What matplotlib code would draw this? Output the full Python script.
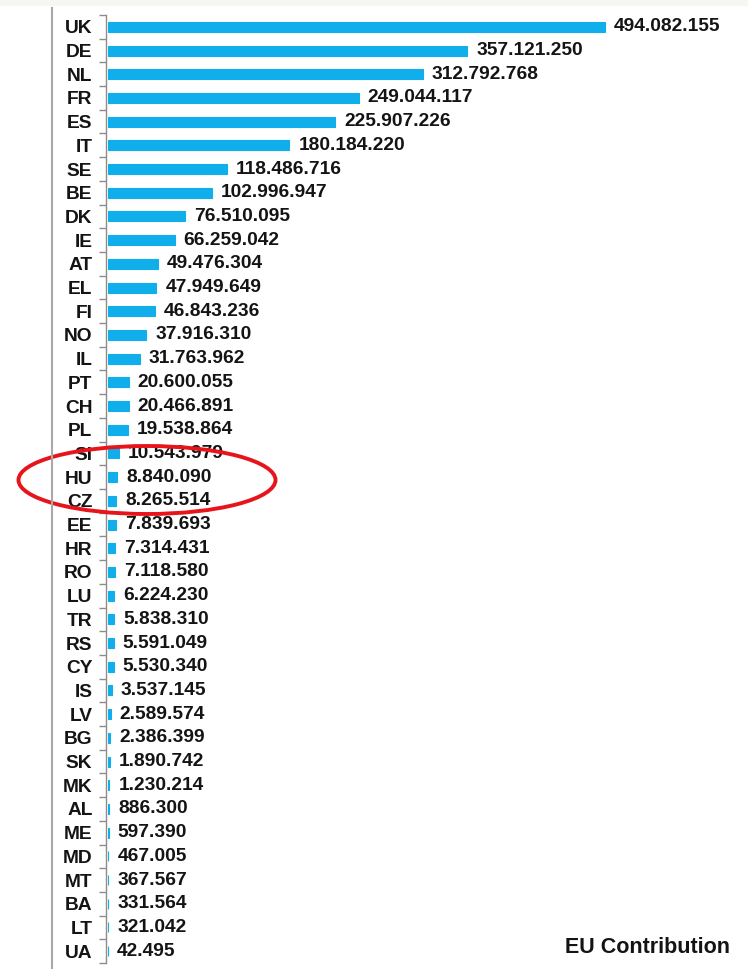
import matplotlib
matplotlib.use("Agg")
import matplotlib.pyplot as plt
from matplotlib.patches import Ellipse, Rectangle
from matplotlib.lines import Line2D

countries = ["UK", "DE", "NL", "FR", "ES", "IT", "SE", "BE", "DK", "IE",
             "AT", "EL", "FI", "NO", "IL", "PT", "CH", "PL", "SI", "HU",
             "CZ", "EE", "HR", "RO", "LU", "TR", "RS", "CY", "IS", "LV",
             "BG", "SK", "MK", "AL", "ME", "MD", "MT", "BA", "LT", "UA"]
contributions = [494082155, 357121250, 312792768, 249044117, 225907226,
                 180184220, 118486716, 102996947, 76510095, 66259042,
                 49476304, 47949649, 46843236, 37916310, 31763962,
                 20600055, 20466891, 19538864, 10543979, 8840090,
                 8265514, 7839693, 7314431, 7118580, 6224230,
                 5838310, 5591049, 5530340, 3537145, 2589574,
                 2386399, 1890742, 1230214, 886300, 597390,
                 467005, 367567, 331564, 321042, 42495]
title = "EU Contribution"

W, H = 748, 969
fig = plt.figure(figsize=(W / 100, H / 100), dpi=100)
fig.patch.set_facecolor("white")

# Top off-white strip and left grey border line (screenshot frame)
fig.add_artist(Rectangle((0, 1 - 6 / H), 1, 6 / H, transform=fig.transFigure,
                         facecolor="#f7f7f2", edgecolor="none"))
fig.add_artist(Line2D([52 / W, 52 / W], [0, 1 - 8 / H], transform=fig.transFigure,
                      color="#a8a8a8", lw=1.5))

ax_left, ax_right = 108 / W, 740 / W
ax_top, ax_bot = 1 - 15 / H, 1 - 963 / H
ax = fig.add_axes([ax_left, ax_bot, ax_right - ax_left, ax_top - ax_bot])

for s in ["top", "right", "bottom"]:
    ax.spines[s].set_visible(False)
ax.spines["left"].set_position(("outward", 1.2))
ax.spines["left"].set_color("#8c8c8c")
ax.spines["left"].set_linewidth(1)

bar_color = "#10AEEB"
vals_m = [v / 1e6 for v in contributions]
y = list(range(len(countries)))
ax.barh(y, vals_m, height=0.42, color=bar_color, edgecolor=bar_color,
        linewidth=0.8, left=0)

xmax = (740 - 108) / (605 - 108) * vals_m[0]
ax.set_xlim(0, xmax)
ax.set_ylim(len(countries) - 0.5, -0.5)

fs = 13.8
for yi, v, raw in zip(y, vals_m, contributions):
    ax.annotate(f"{raw:,}".replace(",", "."), xy=(v, yi), xytext=(6.5, 0),
                textcoords="offset points", va="center", ha="left",
                fontsize=fs, fontweight="bold", family="Liberation Sans",
                color="#141414")

ax.set_xticks([])
ax.set_yticks(y)
ax.set_yticklabels(countries, fontsize=fs, fontweight="bold",
                   family="Liberation Sans", color="#141414")
ax.set_yticks([i + 0.5 for i in range(-1, len(countries))], minor=True)
ax.tick_params(axis="y", which="major", length=0, pad=10)
ax.tick_params(axis="y", which="minor", length=5, width=1, color="#8c8c8c")

fig.text(730 / W, 1 - 953 / H, title, ha="right", va="baseline",
         fontsize=15.5, fontweight="bold", family="Liberation Sans", color="#141414")

# Red highlight ellipse around HU
fig.add_artist(Ellipse((147 / 100, (H - 480) / 100), 2.57, 0.68,
                       transform=fig.dpi_scale_trans, fill=False,
                       edgecolor="#e8141c", lw=2.8))

fig.savefig("out.png", dpi=100)
